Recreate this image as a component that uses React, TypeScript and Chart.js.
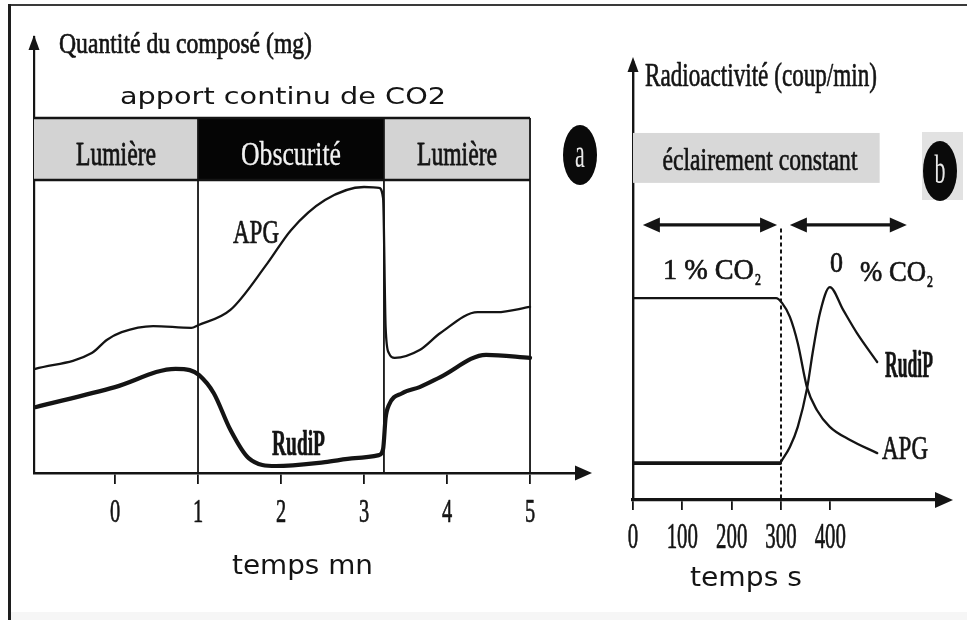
import React, { useEffect, useRef } from "react";
import { Chart, registerables } from "chart.js";

Chart.register(...registerables);

const INK = "#141414";
const SERIF = '"Liberation Serif", "DejaVu Serif", "Times New Roman", serif';
const SANS = '"DejaVu Sans", Verdana, sans-serif';

// ---------- Panel a : quantité du composé (mg) vs temps (mn) ----------
const minutesAPG = [-0.96, -0.28, -0.1, 0.08, 0.46, 0.92, 1.0, 1.39, 1.84, 2.12, 2.53, 3.0, 3.18, 3.23, 3.26, 3.3, 3.37, 3.67, 3.92, 4.37, 4.6, 5.0];
const apgQuantity = [23.9, 27.5, 30.5, 32.3, 33.7, 33.3, 33.9, 37.4, 48.2, 55.7, 62.6, 65.6, 65.4, 63.0, 33.5, 27.5, 26.4, 28.2, 32.1, 36.9, 36.9, 38.1];
const minutesRudiP = [-0.96, 0, 0.73, 0.9, 1.01, 1.19, 1.39, 1.61, 1.94, 2.53, 2.89, 3.18, 3.23, 3.26, 3.3, 3.46, 3.67, 3.92, 4.47, 5.0];
const rudipQuantity = [15.1, 19.7, 23.9, 23.6, 22.5, 18.3, 9.9, 3.4, 1.6, 2.5, 3.4, 4.1, 5.5, 12.6, 15.6, 18.3, 19.7, 22.0, 27.1, 26.4];
const phaseNames = ["Lumière", "Obscurité", "Lumière"];
const phaseStartMin = [-0.976, 1, 3.24];
const phaseEndMin = [1, 3.24, 5];
const minuteTicks = [0, 1, 2, 3, 4, 5];

// ---------- Panel b : radioactivité (coup/min) vs temps (s) ----------
const secondsAPG = [0, 290, 302, 318, 334, 353, 373, 399, 440, 495];
const apgRadio = [46.1, 46.1, 45.0, 41.8, 35.8, 25.6, 20.5, 16.7, 13.7, 10.7];
const secondsRudiP = [0, 298, 302, 318, 334, 353, 365, 379, 399, 426, 454, 495];
const rudipRadio = [8.4, 8.4, 9.1, 12.1, 16.7, 25.6, 34.2, 42.7, 48.6, 43.4, 38.1, 31.5];
const secondTicks = [0, 100, 200, 300, 400];
const co2SwitchSec = 300;

const B_LEFT = 590;

type TOpts = {
  size: number;
  family?: string;
  weight?: string;
  color?: string;
  align?: "left" | "center" | "right";
  width?: number;
  scaleX?: number;
  heavy?: number;
};

function drawText(ctx: CanvasRenderingContext2D, text: string, x: number, y: number, o: TOpts) {
  ctx.save();
  ctx.font = `${o.weight || "normal"} ${o.size}px ${o.family || SERIF}`;
  const color = o.color || INK;
  ctx.fillStyle = color;
  ctx.textBaseline = "alphabetic";
  ctx.textAlign = "left";
  const w = ctx.measureText(text).width;
  const sx = o.width ? o.width / w : o.scaleX ?? 1;
  const dw = w * sx;
  let left = x;
  if (o.align === "center") left = x - dw / 2;
  else if (o.align === "right") left = x - dw;
  ctx.translate(left, y);
  ctx.scale(sx, 1);
  ctx.fillText(text, 0, 0);
  const heavy = o.heavy ?? ((o.family || SERIF) === SERIF ? 0.7 : 0);
  if (heavy > 0) {
    ctx.strokeStyle = color;
    ctx.lineWidth = heavy;
    ctx.lineJoin = "round";
    ctx.strokeText(text, 0, 0);
  }
  ctx.restore();
}

function seg(ctx: CanvasRenderingContext2D, x1: number, y1: number, x2: number, y2: number) {
  ctx.beginPath();
  ctx.moveTo(x1, y1);
  ctx.lineTo(x2, y2);
  ctx.stroke();
}

function tri(ctx: CanvasRenderingContext2D, pts: number[][]) {
  ctx.beginPath();
  ctx.moveTo(pts[0][0], pts[0][1]);
  for (let i = 1; i < pts.length; i++) ctx.lineTo(pts[i][0], pts[i][1]);
  ctx.closePath();
  ctx.fill();
}

function upArrow(ctx: CanvasRenderingContext2D, x: number, tipY: number) {
  ctx.fillStyle = INK;
  tri(ctx, [[x, tipY], [x - 5.5, tipY + 15], [x + 5.5, tipY + 15]]);
}
function rightArrow(ctx: CanvasRenderingContext2D, tipX: number, y: number, len = 17, half = 7.5) {
  ctx.fillStyle = INK;
  tri(ctx, [[tipX, y], [tipX - len, y - half], [tipX - len, y + half]]);
}
function leftArrow(ctx: CanvasRenderingContext2D, tipX: number, y: number, len = 17, half = 7.5) {
  ctx.fillStyle = INK;
  tri(ctx, [[tipX, y], [tipX + len, y - half], [tipX + len, y + half]]);
}

function badge(ctx: CanvasRenderingContext2D, cx: number, cy: number, letter: string) {
  ctx.save();
  ctx.fillStyle = "#0a0a0a";
  ctx.beginPath();
  ctx.ellipse(cx, cy, 17, 30, 0, 0, Math.PI * 2);
  ctx.fill();
  ctx.restore();
  drawText(ctx, letter, cx, cy + 12, { size: 40, color: "#e8e8e8", align: "center", scaleX: 0.55, heavy: 0 });
}

const pts = (xs: number[], ys: number[]) => xs.map((x, i) => ({ x, y: ys[i] }));

const panelAPlugin = {
  id: "panelA",
  beforeDatasetsDraw(chart: any) {
    const ctx: CanvasRenderingContext2D = chart.ctx;
    const X = (v: number) => chart.scales.x.getPixelForValue(v);
    const Y = (v: number) => chart.scales.y.getPixelForValue(v);
    const bandTop = Y(81.4);
    const boxTop = Y(67.2);
    const bottom = Y(0);
    ctx.save();
    phaseNames.forEach((_, i) => {
      const x0 = X(phaseStartMin[i]);
      const x1 = X(phaseEndMin[i]);
      ctx.fillStyle = i === 1 ? "#050505" : "#d3d3d3";
      ctx.fillRect(x0, bandTop, x1 - x0, boxTop - bandTop);
    });
    ctx.strokeStyle = INK;
    ctx.lineWidth = 2.5;
    const right = X(phaseEndMin[phaseEndMin.length - 1]);
    seg(ctx, X(phaseStartMin[0]), bandTop, right, bandTop);
    seg(ctx, X(phaseStartMin[0]), boxTop, right, boxTop);
    ctx.lineWidth = 1.8;
    phaseEndMin.forEach((v) => seg(ctx, X(v), bandTop, X(v), bottom));
    ctx.restore();
  },
  afterDraw(chart: any) {
    const ctx: CanvasRenderingContext2D = chart.ctx;
    const X = (v: number) => chart.scales.x.getPixelForValue(v);
    const area = chart.chartArea;
    phaseNames.forEach((name, i) => {
      const cx = (X(phaseStartMin[i]) + X(phaseEndMin[i])) / 2;
      const w = i === 1 ? 100 : 80;
      drawText(ctx, name, cx, 165, { size: 33, align: "center", width: w, color: i === 1 ? "#f2f2f2" : INK, heavy: i === 1 ? 0.3 : 0.8 });
    });
    drawText(ctx, "Quantité du composé (mg)", 59, 53, { size: 30, width: 253 });
    drawText(ctx, "apport continu de CO2", 120, 104, { size: 23, family: SANS, width: 326 });
    drawText(ctx, "APG", 233, 243, { size: 34, width: 46 });
    drawText(ctx, "RudiP", 272, 455, { size: 35, weight: "bold", width: 53 });
    minuteTicks.forEach((t) => drawText(ctx, String(t), X(t), 522, { size: 34, align: "center", scaleX: 0.6 }));
    drawText(ctx, "temps mn", 232, 574, { size: 26, family: SANS, width: 141 });
    upArrow(ctx, area.left, area.top - 2);
    rightArrow(ctx, area.right + 14, area.bottom);
    badge(ctx, 580, 155, "a");
  },
};

const panelBPlugin = {
  id: "panelB",
  beforeDatasetsDraw(chart: any) {
    const ctx: CanvasRenderingContext2D = chart.ctx;
    const X = (v: number) => chart.scales.x.getPixelForValue(v);
    const Y = (v: number) => chart.scales.y.getPixelForValue(v);
    ctx.save();
    ctx.fillStyle = "#d8d8d8";
    ctx.fillRect(X(0), Y(83.8), X(500) - X(0), Y(72.4) - Y(83.8));
    ctx.fillStyle = "#e2e2e2";
    ctx.fillRect(922 - B_LEFT, 132, 41, 68);
    // dashed switch line
    ctx.strokeStyle = INK;
    ctx.lineWidth = 2;
    ctx.setLineDash([4, 3]);
    seg(ctx, X(co2SwitchSec), Y(62), X(co2SwitchSec), Y(0));
    ctx.setLineDash([]);
    // double arrows
    const ay = Y(62.8);
    ctx.lineWidth = 3.2;
    seg(ctx, X(20) + 8, ay, X(292) - 8, ay);
    seg(ctx, X(318) + 8, ay, X(555) - 8, ay);
    leftArrow(ctx, X(20), ay);
    rightArrow(ctx, X(292), ay);
    leftArrow(ctx, X(318), ay);
    rightArrow(ctx, X(555), ay);
    ctx.restore();
  },
  afterDraw(chart: any) {
    const ctx: CanvasRenderingContext2D = chart.ctx;
    const X = (v: number) => chart.scales.x.getPixelForValue(v);
    const area = chart.chartArea;
    const L = (px: number) => px - B_LEFT;
    drawText(ctx, "Radioactivité (coup/min)", L(645), 86, { size: 34, width: 232 });
    drawText(ctx, "éclairement constant", L(760), 170, { size: 32, align: "center", width: 195 });
    drawText(ctx, "1 % CO", L(663), 279, { size: 30, width: 91 });
    drawText(ctx, "2", L(755), 285, { size: 17, scaleX: 0.7 });
    drawText(ctx, "0", L(830), 272, { size: 30, width: 13 });
    drawText(ctx, "% CO", L(860), 281, { size: 30, width: 66 });
    drawText(ctx, "2", L(927), 287, { size: 17, scaleX: 0.7 });
    drawText(ctx, "RudiP", L(885), 377, { size: 38, weight: "bold", width: 48 });
    drawText(ctx, "APG", L(882), 459, { size: 33, width: 46 });
    secondTicks.forEach((t) => drawText(ctx, String(t), X(t), 548, { size: 36, align: "center", scaleX: 0.58 }));
    drawText(ctx, "temps s", L(690), 586, { size: 26, family: SANS, width: 112 });
    upArrow(ctx, area.left, area.top - 5);
    rightArrow(ctx, area.right + 13, area.bottom, 18, 8);
    badge(ctx, L(940), 171, "b");
  },
};

function lineDataset(label: string, data: { x: number; y: number }[], width: number, extra: any = {}) {
  return {
    label,
    data,
    borderColor: INK,
    borderWidth: width,
    pointRadius: 0,
    fill: false,
    cubicInterpolationMode: "monotone",
    borderJoinStyle: "round",
    borderCapStyle: "round",
    ...extra,
  };
}

function configA(): any {
  return {
    type: "line",
    data: {
      datasets: [
        lineDataset("APG", pts(minutesAPG, apgQuantity), 2.3),
        lineDataset("RudiP", pts(minutesRudiP, rudipQuantity), 4.2),
      ],
    },
    options: {
      responsive: false,
      animation: false,
      devicePixelRatio: 1,
      layout: { padding: { left: 0, right: 22, top: 37, bottom: 0 } },
      plugins: { legend: { display: false }, tooltip: { enabled: false } },
      scales: {
        x: {
          type: "linear",
          min: -0.976,
          max: 5.578,
          afterBuildTicks: (s: any) => {
            s.ticks = minuteTicks.map((v) => ({ value: v }));
          },
          afterFit: (s: any) => {
            s.height = 147;
          },
          ticks: { display: false },
          grid: { display: true, drawOnChartArea: false, drawTicks: true, tickLength: 11, color: INK, lineWidth: 1.8 },
          border: { display: true, color: INK, width: 2.6 },
        },
        y: {
          type: "linear",
          min: 0,
          max: 100,
          afterFit: (s: any) => {
            s.width = 34;
          },
          ticks: { display: false },
          grid: { display: false },
          border: { display: true, color: INK, width: 2.2 },
        },
      },
    },
    plugins: [panelAPlugin],
  };
}

function configB(): any {
  return {
    type: "line",
    data: {
      datasets: [
        lineDataset("APG", pts(secondsAPG, apgRadio), 2.3),
        lineDataset("RudiP", pts(secondsRudiP, rudipRadio), 3.6, {
          segment: { borderWidth: (c: any) => (c.p1.parsed.x <= co2SwitchSec ? 3.8 : 2.3) },
        }),
      ],
    },
    options: {
      responsive: false,
      animation: false,
      devicePixelRatio: 1,
      layout: { padding: { left: 0, right: 27, top: 62, bottom: 0 } },
      plugins: { legend: { display: false }, tooltip: { enabled: false } },
      scales: {
        x: {
          type: "linear",
          min: 0,
          max: 622.3,
          afterBuildTicks: (s: any) => {
            s.ticks = secondTicks.map((v) => ({ value: v }));
          },
          afterFit: (s: any) => {
            s.height = 120;
          },
          ticks: { display: false },
          grid: { display: true, drawOnChartArea: false, drawTicks: true, tickLength: 10, color: INK, lineWidth: 1.8 },
          border: { display: true, color: INK, width: 3.2 },
        },
        y: {
          type: "linear",
          min: 0,
          max: 100,
          afterFit: (s: any) => {
            s.width = 43;
          },
          ticks: { display: false },
          grid: { display: false },
          border: { display: true, color: INK, width: 2.4 },
        },
      },
    },
    plugins: [panelBPlugin],
  };
}

export default function App() {
  const refA = useRef<HTMLCanvasElement>(null);
  const refB = useRef<HTMLCanvasElement>(null);
  useEffect(() => {
    const a = new Chart(refA.current as HTMLCanvasElement, configA());
    const b = new Chart(refB.current as HTMLCanvasElement, configB());
    return () => {
      a.destroy();
      b.destroy();
    };
  }, []);
  return (
    <div style={{ position: "fixed", left: 0, top: 0, width: 967, height: 620, background: "#ffffff", overflow: "hidden" }}>
      <div style={{ position: "absolute", left: 8, top: 4, right: 0, height: 2, background: "#3a3a3a" }} />
      <div style={{ position: "absolute", left: 8, top: 4, width: 3, bottom: 0, background: "#1e1e1e" }} />
      <div style={{ position: "absolute", left: 11, top: 612, right: 0, bottom: 0, background: "#f6f6f6" }} />
      <canvas ref={refA} width={600} height={620} style={{ position: "absolute", left: 0, top: 0 }} />
      <canvas ref={refB} width={377} height={620} style={{ position: "absolute", left: B_LEFT, top: 0 }} />
    </div>
  );
}
